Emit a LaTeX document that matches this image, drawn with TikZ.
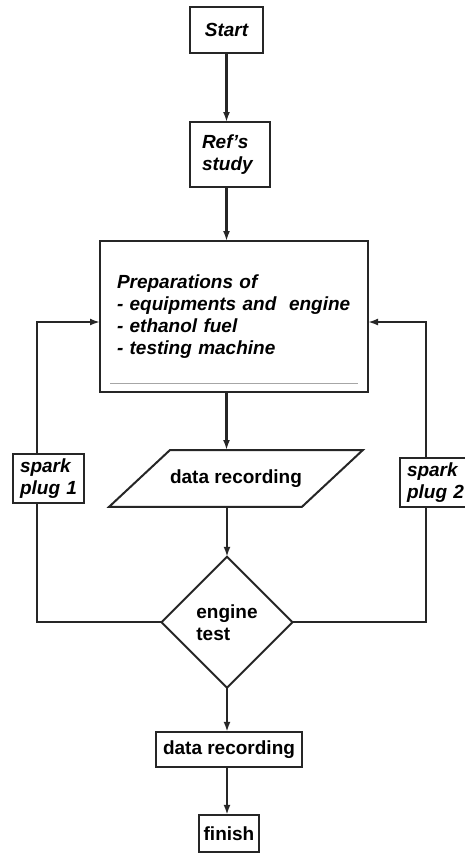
\documentclass[tikz,border=0pt]{standalone}
\usepackage{fontspec}
\setmainfont{Liberation Sans}
\usetikzlibrary{shapes.geometric, arrows.meta}
\usetikzlibrary{positioning}

\begin{document}
\begin{tikzpicture}[
x=1pt, y=1pt, >={Latex[length=10pt,width=7pt]},
every node/.style={font=\fontsize{19}{22}\selectfont\bfseries, outer sep=0pt},
slanttext/.style={font=\fontsize{19}{22}\selectfont\bfseries\itshape},
squarednode/.style={rectangle, draw=black!85, fill=white, line width=2pt, inner ysep=2pt},
slantednode/.style={trapezium, trapezium left angle=43, trapezium right angle=137, draw=black!85, fill=white, line width=2pt, inner xsep=0pt, inner ysep=19.5pt},
diamondnode/.style={diamond, aspect=1, draw=black!85, fill=white, line width=2pt, minimum width=131pt, minimum height=131pt, align=left},
flowline/.style={draw=black!85, line width=2.2pt},
]
\useasboundingbox (0,0) rectangle (465,-860);

%Nodes
\node[squarednode, slanttext, minimum width=73pt, minimum height=46pt] (start_node) at (226.5,-30) {Start};
\node[squarednode, slanttext, text width=56pt, inner xsep=12pt, align=left, minimum height=65pt] (ref_node) [below=69pt of start_node, xshift=3.5pt] {Ref's\\study};
\node[squarednode, slanttext, text width=234pt, inner xsep=17pt, align=left, minimum height=151pt] (prep_node) [below=54pt of ref_node, xshift=4pt] {Preparations of\\- equipments and~ engine\\- ethanol fuel\\- testing machine};
\node[slantednode] (data_node) [below=58pt of prep_node, xshift=2pt] {data recording};
\node[diamondnode] (test_node) [below=50pt of data_node, xshift=-9pt] {engine\\test};
\node[squarednode, inner xsep=7.5pt, minimum height=35pt] (rec_node) [below=44pt of test_node, xshift=2pt] {data recording};
\node[squarednode, inner xsep=5pt, minimum height=37pt] (finish_node) [below=48pt of rec_node] {finish};

\node[squarednode, slanttext, text width=57pt, inner xsep=7pt, align=left, minimum height=49pt] (spark1_node) at (48.5,-478.5) {spark\\plug 1};
\node[squarednode, slanttext, text width=57pt, inner xsep=7pt, align=left, minimum height=49pt] (spark2_node) at (435.5,-482.5) {spark\\plug 2};

\draw[black!35, line width=0.6pt] ([xshift=10pt,yshift=9pt]prep_node.south west) -- ([xshift=-10pt,yshift=9pt]prep_node.south east);

%Lines
\draw[flowline, ->] (start_node.south) -- (start_node.south |- ref_node.north);
\draw[flowline, ->] (ref_node.south -| start_node) -- (start_node |- prep_node.north);
\draw[flowline, ->] (prep_node.south -| start_node) -- (start_node |- data_node.north);
\draw[flowline, ->] (data_node.south -| test_node) -- (test_node.north);
\draw[flowline, ->] (test_node.south) -- (test_node.south |- rec_node.north);
\draw[flowline, ->] (rec_node.south -| test_node) -- (test_node |- finish_node.north);

% loops back to the preparations
\draw[flowline] (test_node.west) -| ([xshift=-11.5pt]spark1_node.south);
\draw[flowline, ->] ([xshift=-11.5pt]spark1_node.north) |- ([yshift=-5.5pt]prep_node.west);
\draw[flowline] (test_node.east) -| ([xshift=-9.5pt]spark2_node.south);
\draw[flowline, ->] ([xshift=-9.5pt]spark2_node.north) |- ([yshift=-5.5pt]prep_node.east);

\end{tikzpicture}
\end{document}
